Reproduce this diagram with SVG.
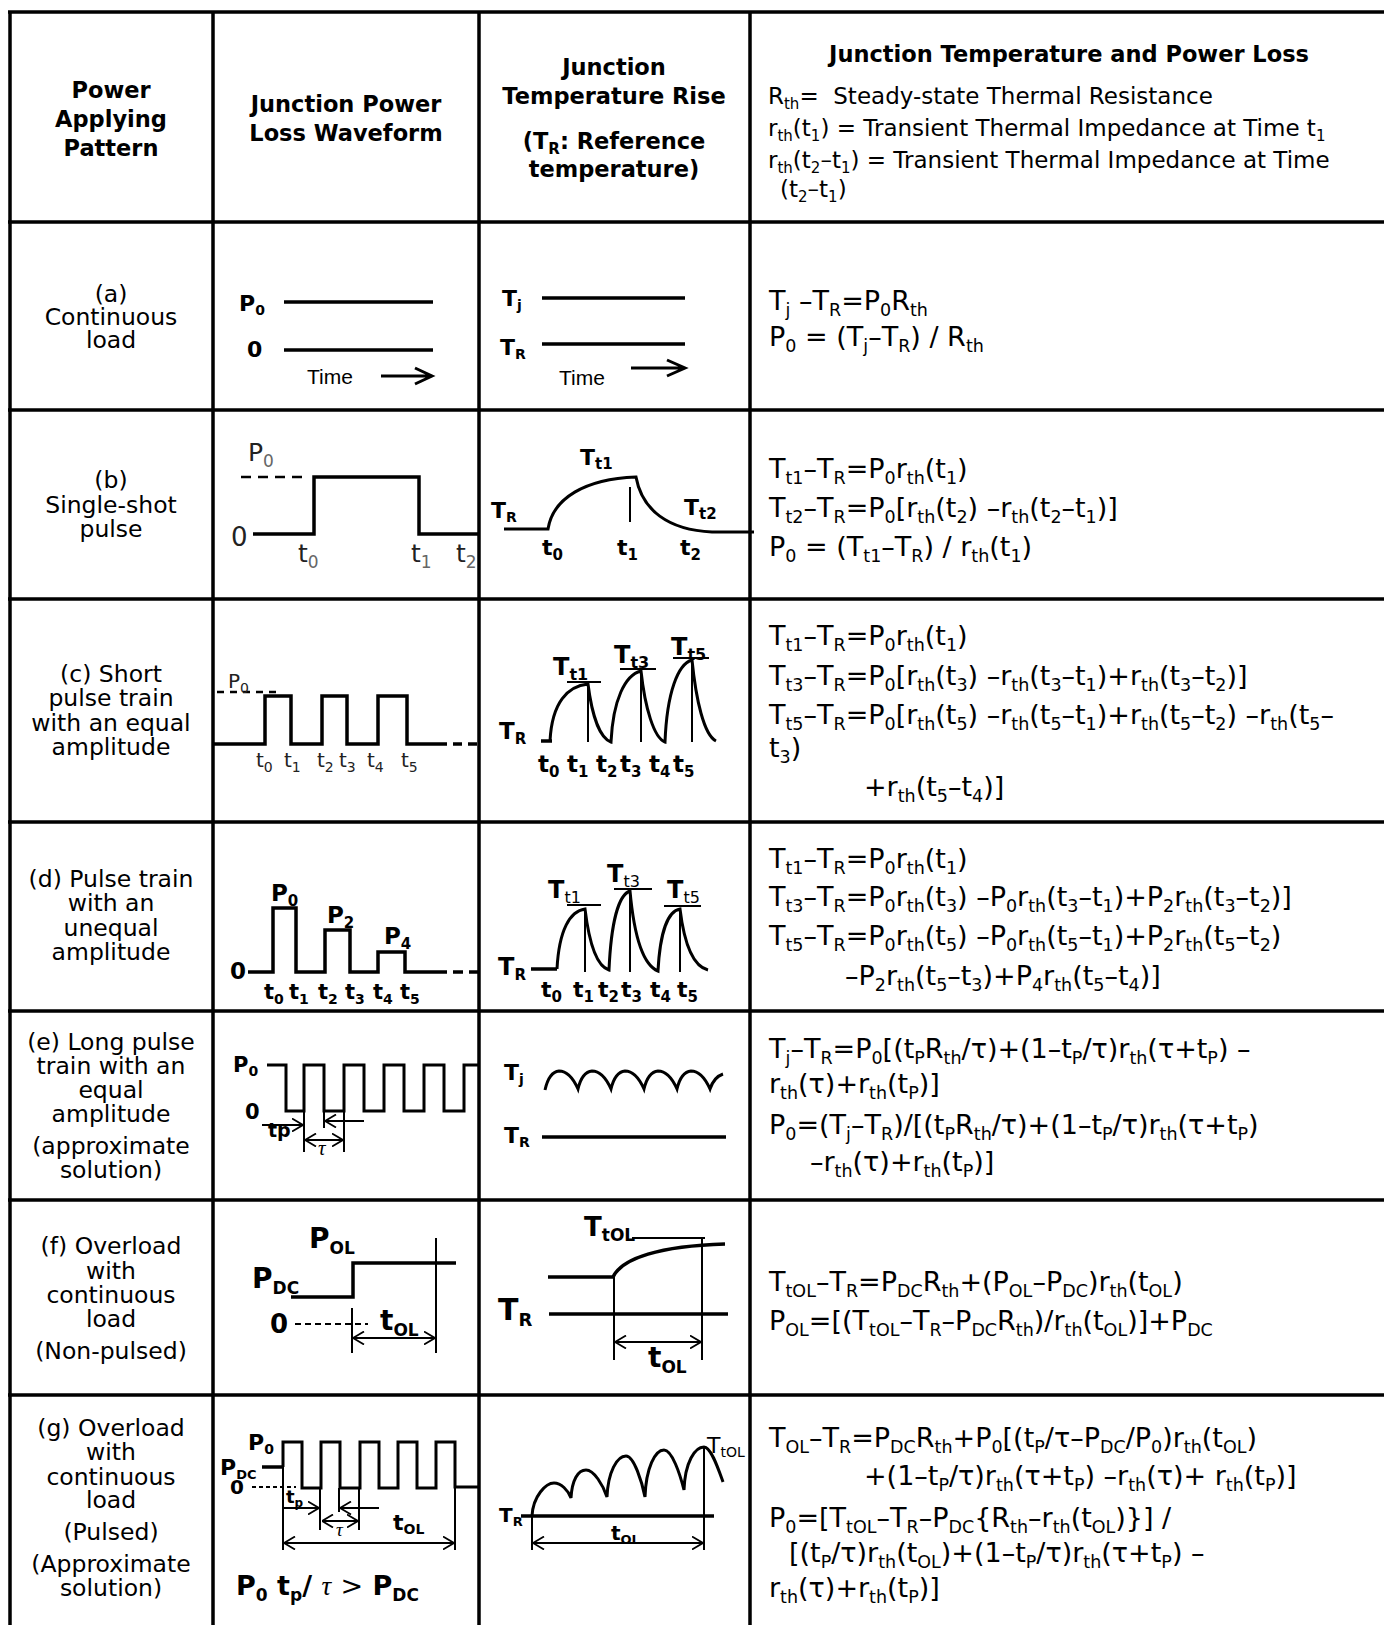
<svg xmlns="http://www.w3.org/2000/svg" width="1384" height="1625" viewBox="0 0 1384 1625">
<defs>
<style>
.grid{stroke:#000;stroke-width:3.5;fill:none}
.hd{font-family:"DejaVu Sans",sans-serif;font-weight:bold;font-size:22.5px;text-anchor:middle}
.lab{font-family:"DejaVu Sans",sans-serif;font-size:23.5px;text-anchor:middle}
.eq{font-family:"DejaVu Sans",sans-serif;font-size:27px}
.eq .s{font-size:17.5px;baseline-shift:-6px}
.h4{font-family:"DejaVu Sans",sans-serif;font-size:23px}
.h4 .s{font-size:15px;baseline-shift:-5px}
.w{stroke:#000;stroke-width:3.5;fill:none}
.w3{stroke:#000;stroke-width:3;fill:none}
.thin{stroke:#000;stroke-width:2;fill:none}
.dim{stroke:#000;stroke-width:1.8;fill:none;marker-start:url(#a);marker-end:url(#a)}
.one{stroke:#000;stroke-width:1.8;fill:none;marker-end:url(#a)}
.b{font-family:"DejaVu Sans",sans-serif;font-weight:bold}
.r{font-family:"DejaVu Sans",sans-serif}
.tm{font-family:"Liberation Sans",Arial,sans-serif;font-size:21px}
.tau{font-family:"Liberation Serif",serif;font-style:italic}
</style>
<marker id="a" viewBox="0 0 12 14" refX="11.5" refY="7" markerWidth="12" markerHeight="14" markerUnits="userSpaceOnUse" orient="auto-start-reverse"><path d="M0.5,0.5 L11.5,7 L0.5,13.5" fill="none" stroke="#000" stroke-width="1.8"/></marker>
</defs>
<rect width="1384" height="1625" fill="#fff"/>

<g id="grid" class="grid">
<path d="M10,12 V1625 M213,12 V1625 M479,12 V1625 M750,12 V1625"/>
<path d="M8,12 H1384 M8,222 H1384 M8,410 H1384 M8,599 H1384 M8,822 H1384 M8,1011 H1384 M8,1200 H1384 M8,1395 H1384"/>
</g>

<g id="header">
<g id="h-col1">
<text class="hd" x="111" y="98">Power</text>
<text class="hd" x="111" y="127">Applying</text>
<text class="hd" x="111" y="156">Pattern</text>
</g>
<g id="h-col2">
<text class="hd" x="346" y="112">Junction Power</text>
<text class="hd" x="346" y="141">Loss Waveform</text>
</g>
<g id="h-col3">
<text class="hd" x="614" y="75">Junction</text>
<text class="hd" x="614" y="104">Temperature Rise</text>
<text class="hd" x="614" y="149">(T<tspan font-size="15" baseline-shift="-5">R</tspan>: Reference</text>
<text class="hd" x="614" y="177">temperature)</text>
</g>
<g id="h-col4">
<text class="hd" x="1069" y="62">Junction Temperature and Power Loss</text>
<text class="h4" x="768" y="104">R<tspan class="s">th</tspan>=&#160; Steady-state Thermal Resistance</text>
<text class="h4" x="768" y="136">r<tspan class="s">th</tspan>(t<tspan class="s">1</tspan>) = Transient Thermal Impedance at Time t<tspan class="s">1</tspan></text>
<text class="h4" x="768" y="168">r<tspan class="s">th</tspan>(t<tspan class="s">2</tspan>–t<tspan class="s">1</tspan>) = Transient Thermal Impedance at Time</text>
<text class="h4" x="780" y="197">(t<tspan class="s">2</tspan>–t<tspan class="s">1</tspan>)</text>
</g>
</g>

<g id="row-a">
<g id="a-label">
<text class="lab" x="111" y="302">(a)</text>
<text class="lab" x="111" y="325">Continuous</text>
<text class="lab" x="111" y="348">load</text>
</g>
<g id="a-power">
<text class="b" x="239" y="311" font-size="22">P<tspan font-size="14" baseline-shift="-4">0</tspan></text>
<path class="w" d="M284,302 H433 M284,350 H433"/>
<text class="b" x="247" y="357" font-size="22">0</text>
<text class="tm" x="307" y="384">Time</text>
<path class="w3" d="M381,376 H431 M415,368 L432,376 L415,384"/>
</g>
<g id="a-temp">
<text class="b" x="502" y="306" font-size="22">T<tspan font-size="14" baseline-shift="-4">j</tspan></text>
<path class="w" d="M542,298 H685 M542,344 H685"/>
<text class="b" x="500" y="355" font-size="22">T<tspan font-size="14" baseline-shift="-4">R</tspan></text>
<text class="tm" x="559" y="385">Time</text>
<path class="w3" d="M631,368 H684 M667,360 L685,368 L667,376"/>
</g>
<g id="a-eq">
<text class="eq" x="769" y="310">T<tspan class="s">j</tspan> –T<tspan class="s">R</tspan>=P<tspan class="s">0</tspan>R<tspan class="s">th</tspan></text>
<text class="eq" x="769" y="346">P<tspan class="s">0</tspan> = (T<tspan class="s">j</tspan>–T<tspan class="s">R</tspan>) / R<tspan class="s">th</tspan></text>
</g>
</g>

<g id="row-b">
<g id="b-label">
<text class="lab" x="111" y="488">(b)</text>
<text class="lab" x="111" y="513">Single-shot</text>
<text class="lab" x="111" y="537">pulse</text>
</g>
<g id="b-power">
<text class="r" x="248" y="461" font-size="25" fill="#222">P<tspan font-size="17" baseline-shift="-6" fill="#666">0</tspan></text>
<path d="M241,477 H307" stroke="#000" stroke-width="2.5" stroke-dasharray="10,7"/>
<path class="w" d="M253,534 H314 V477 H419 V534 H479"/>
<text class="r" x="231" y="546" font-size="26" fill="#222">0</text>
<text class="r" x="298" y="562" font-size="25" fill="#222">t<tspan font-size="17" baseline-shift="-6" fill="#666">0</tspan></text>
<text class="r" x="411" y="562" font-size="25" fill="#222">t<tspan font-size="17" baseline-shift="-6" fill="#666">1</tspan></text>
<text class="r" x="456" y="562" font-size="25" fill="#222">t<tspan font-size="17" baseline-shift="-6" fill="#666">2</tspan></text>
</g>
<g id="b-temp">
<text class="b" x="491" y="518" font-size="22">T<tspan font-size="14" baseline-shift="-4">R</tspan></text>
<path class="w3" d="M504,529 H548 C553,498 585,479 636,477 C642,510 668,530 712,532 H754"/>
<path class="thin" d="M630,487 V522" stroke-width="2.5"/>
<text class="b" x="580" y="465" font-size="22">T<tspan font-size="15" baseline-shift="-4">t1</tspan></text>
<text class="b" x="684" y="515" font-size="22">T<tspan font-size="15" baseline-shift="-4">t2</tspan></text>
<text class="b" x="542" y="555" font-size="22">t<tspan font-size="15" baseline-shift="-5">0</tspan></text>
<text class="b" x="617" y="555" font-size="22">t<tspan font-size="15" baseline-shift="-5">1</tspan></text>
<text class="b" x="680" y="555" font-size="22">t<tspan font-size="15" baseline-shift="-5">2</tspan></text>
</g>
<g id="b-eq">
<text class="eq" x="769" y="478">T<tspan class="s">t1</tspan>–T<tspan class="s">R</tspan>=P<tspan class="s">0</tspan>r<tspan class="s">th</tspan>(t<tspan class="s">1</tspan>)</text>
<text class="eq" x="769" y="517">T<tspan class="s">t2</tspan>–T<tspan class="s">R</tspan>=P<tspan class="s">0</tspan>[r<tspan class="s">th</tspan>(t<tspan class="s">2</tspan>) –r<tspan class="s">th</tspan>(t<tspan class="s">2</tspan>–t<tspan class="s">1</tspan>)]</text>
<text class="eq" x="769" y="556">P<tspan class="s">0</tspan> = (T<tspan class="s">t1</tspan>–T<tspan class="s">R</tspan>) / r<tspan class="s">th</tspan>(t<tspan class="s">1</tspan>)</text>
</g>
</g>

<g id="row-c">
<g id="c-label">
<text class="lab" x="111" y="682">(c) Short</text>
<text class="lab" x="111" y="706">pulse train</text>
<text class="lab" x="111" y="731">with an equal</text>
<text class="lab" x="111" y="755">amplitude</text>
</g>
<g id="c-power">
<path d="M217,692 H280" stroke="#000" stroke-width="2.5" stroke-dasharray="7,6"/>
<text class="r" x="228" y="688" font-size="20" fill="#222">P<tspan font-size="14" baseline-shift="-5">0</tspan></text>
<path class="w" d="M213,744 H265 V696 H291 V744 H322 V696 H347 V744 H378 V696 H407 V744 H438"/>
<path d="M438,744 H479" stroke="#000" stroke-width="3.5" stroke-dasharray="9,6"/>
<g fill="#222" font-size="20">
<text class="r" x="256" y="767">t<tspan font-size="14" baseline-shift="-5">0</tspan></text>
<text class="r" x="284" y="767">t<tspan font-size="14" baseline-shift="-5">1</tspan></text>
<text class="r" x="317" y="767">t<tspan font-size="14" baseline-shift="-5">2</tspan></text>
<text class="r" x="339" y="767">t<tspan font-size="14" baseline-shift="-5">3</tspan></text>
<text class="r" x="367" y="767">t<tspan font-size="14" baseline-shift="-5">4</tspan></text>
<text class="r" x="401" y="767">t<tspan font-size="14" baseline-shift="-5">5</tspan></text>
</g>
</g>
<g id="c-temp">
<text class="b" x="499" y="739" font-size="23">T<tspan font-size="15" baseline-shift="-5">R</tspan></text>
<path class="w" d="M541,741 H552"/>
<path class="w3" d="M550,741 C552,702 568,686 588,684 C592,716 600,738 611,742 C613,700 625,675 641,671 C645,708 654,738 665,742 C667,692 678,664 692,660 C696,700 704,735 716,741"/>
<path class="thin" d="M588,684 V742 M641,671 V742 M692,660 V742"/>
<path class="thin" stroke-width="2.5" d="M567,682 H601 M620,669 H656 M673,658 H709"/>
<text class="b" x="553" y="675" font-size="24">T<tspan font-size="16" baseline-shift="-5">t1</tspan></text>
<text class="b" x="614" y="663" font-size="24">T<tspan font-size="16" baseline-shift="-5">t3</tspan></text>
<text class="b" x="671" y="655" font-size="24">T<tspan font-size="16" baseline-shift="-5">t5</tspan></text>
<g font-size="23">
<text class="b" x="538" y="772">t<tspan font-size="15" baseline-shift="-5">0</tspan></text>
<text class="b" x="567" y="772">t<tspan font-size="15" baseline-shift="-5">1</tspan></text>
<text class="b" x="596" y="772">t<tspan font-size="15" baseline-shift="-5">2</tspan></text>
<text class="b" x="620" y="772">t<tspan font-size="15" baseline-shift="-5">3</tspan></text>
<text class="b" x="649" y="772">t<tspan font-size="15" baseline-shift="-5">4</tspan></text>
<text class="b" x="673" y="772">t<tspan font-size="15" baseline-shift="-5">5</tspan></text>
</g>
</g>
<g id="c-eq">
<text class="eq" x="769" y="645">T<tspan class="s">t1</tspan>–T<tspan class="s">R</tspan>=P<tspan class="s">0</tspan>r<tspan class="s">th</tspan>(t<tspan class="s">1</tspan>)</text>
<text class="eq" x="769" y="685">T<tspan class="s">t3</tspan>–T<tspan class="s">R</tspan>=P<tspan class="s">0</tspan>[r<tspan class="s">th</tspan>(t<tspan class="s">3</tspan>) –r<tspan class="s">th</tspan>(t<tspan class="s">3</tspan>–t<tspan class="s">1</tspan>)+r<tspan class="s">th</tspan>(t<tspan class="s">3</tspan>–t<tspan class="s">2</tspan>)]</text>
<text class="eq" x="769" y="724">T<tspan class="s">t5</tspan>–T<tspan class="s">R</tspan>=P<tspan class="s">0</tspan>[r<tspan class="s">th</tspan>(t<tspan class="s">5</tspan>) –r<tspan class="s">th</tspan>(t<tspan class="s">5</tspan>–t<tspan class="s">1</tspan>)+r<tspan class="s">th</tspan>(t<tspan class="s">5</tspan>–t<tspan class="s">2</tspan>) –r<tspan class="s">th</tspan>(t<tspan class="s">5</tspan>–</text>
<text class="eq" x="769" y="757">t<tspan class="s">3</tspan>)</text>
<text class="eq" x="864" y="796">+r<tspan class="s">th</tspan>(t<tspan class="s">5</tspan>–t<tspan class="s">4</tspan>)]</text>
</g>
</g>

<g id="row-d">
<g id="d-label">
<text class="lab" x="111" y="887">(d) Pulse train</text>
<text class="lab" x="111" y="911">with an</text>
<text class="lab" x="111" y="936">unequal</text>
<text class="lab" x="111" y="960">amplitude</text>
</g>
<g id="d-power">
<text class="b" x="230" y="979" font-size="23">0</text>
<path class="w" d="M248,972 H273 V908 H296 V972 H325 V930 H350 V972 H378 V952 H405 V972 H437"/>
<path d="M437,972 H479" stroke="#000" stroke-width="3.5" stroke-dasharray="10,6"/>
<text class="b" x="271" y="901" font-size="23">P<tspan font-size="15" baseline-shift="-5">0</tspan></text>
<text class="b" x="327" y="923" font-size="23">P<tspan font-size="15" baseline-shift="-5">2</tspan></text>
<text class="b" x="384" y="944" font-size="23">P<tspan font-size="15" baseline-shift="-5">4</tspan></text>
<g font-size="21">
<text class="b" x="264" y="999">t<tspan font-size="14" baseline-shift="-5">0</tspan></text>
<text class="b" x="289" y="999">t<tspan font-size="14" baseline-shift="-5">1</tspan></text>
<text class="b" x="318" y="999">t<tspan font-size="14" baseline-shift="-5">2</tspan></text>
<text class="b" x="345" y="999">t<tspan font-size="14" baseline-shift="-5">3</tspan></text>
<text class="b" x="373" y="999">t<tspan font-size="14" baseline-shift="-5">4</tspan></text>
<text class="b" x="400" y="999">t<tspan font-size="14" baseline-shift="-5">5</tspan></text>
</g>
</g>
<g id="d-temp">
<text class="b" x="498" y="975" font-size="24">T<tspan font-size="15" baseline-shift="-5">R</tspan></text>
<path class="w" d="M531,969 H557"/>
<path class="w3" d="M557,969 C559,930 570,911 585,909 C589,942 596,966 609,970 C611,925 618,895 630,891 C634,935 643,965 658,971 C660,932 668,911 680,909 C684,942 692,966 708,970"/>
<path class="thin" d="M585,909 V972 M630,891 V972 M680,909 V972"/>
<path class="thin" stroke-width="2.5" d="M567,905 H601 M614,889 H652 M664,906 H701"/>
<text class="b" x="548" y="898" font-size="24">T<tspan font-size="16" baseline-shift="-5" font-weight="normal">t1</tspan></text>
<text class="b" x="607" y="882" font-size="24">T<tspan font-size="16" baseline-shift="-5" font-weight="normal">t3</tspan></text>
<text class="b" x="667" y="898" font-size="24">T<tspan font-size="16" baseline-shift="-5" font-weight="normal">t5</tspan></text>
<g font-size="22">
<text class="b" x="541" y="997">t<tspan font-size="15" baseline-shift="-5">0</tspan></text>
<text class="b" x="573" y="997">t<tspan font-size="15" baseline-shift="-5">1</tspan></text>
<text class="b" x="598" y="997">t<tspan font-size="15" baseline-shift="-5">2</tspan></text>
<text class="b" x="621" y="997">t<tspan font-size="15" baseline-shift="-5">3</tspan></text>
<text class="b" x="650" y="997">t<tspan font-size="15" baseline-shift="-5">4</tspan></text>
<text class="b" x="677" y="997">t<tspan font-size="15" baseline-shift="-5">5</tspan></text>
</g>
</g>
<g id="d-eq">
<text class="eq" x="769" y="868">T<tspan class="s">t1</tspan>–T<tspan class="s">R</tspan>=P<tspan class="s">0</tspan>r<tspan class="s">th</tspan>(t<tspan class="s">1</tspan>)</text>
<text class="eq" x="769" y="906">T<tspan class="s">t3</tspan>–T<tspan class="s">R</tspan>=P<tspan class="s">0</tspan>r<tspan class="s">th</tspan>(t<tspan class="s">3</tspan>) –P<tspan class="s">0</tspan>r<tspan class="s">th</tspan>(t<tspan class="s">3</tspan>–t<tspan class="s">1</tspan>)+P<tspan class="s">2</tspan>r<tspan class="s">th</tspan>(t<tspan class="s">3</tspan>–t<tspan class="s">2</tspan>)]</text>
<text class="eq" x="769" y="945">T<tspan class="s">t5</tspan>–T<tspan class="s">R</tspan>=P<tspan class="s">0</tspan>r<tspan class="s">th</tspan>(t<tspan class="s">5</tspan>) –P<tspan class="s">0</tspan>r<tspan class="s">th</tspan>(t<tspan class="s">5</tspan>–t<tspan class="s">1</tspan>)+P<tspan class="s">2</tspan>r<tspan class="s">th</tspan>(t<tspan class="s">5</tspan>–t<tspan class="s">2</tspan>)</text>
<text class="eq" x="845" y="985">–P<tspan class="s">2</tspan>r<tspan class="s">th</tspan>(t<tspan class="s">5</tspan>–t<tspan class="s">3</tspan>)+P<tspan class="s">4</tspan>r<tspan class="s">th</tspan>(t<tspan class="s">5</tspan>–t<tspan class="s">4</tspan>)]</text>
</g>
</g>

<g id="row-e">
<g id="e-label">
<text class="lab" x="111" y="1050">(e) Long pulse</text>
<text class="lab" x="111" y="1074">train with an</text>
<text class="lab" x="111" y="1098">equal</text>
<text class="lab" x="111" y="1122">amplitude</text>
<text class="lab" x="111" y="1154">(approximate</text>
<text class="lab" x="111" y="1178">solution)</text>
</g>
<g id="e-power">
<text class="b" x="233" y="1072" font-size="21">P<tspan font-size="14" baseline-shift="-4">0</tspan></text>
<text class="b" x="245" y="1119" font-size="21">0</text>
<path class="w3" d="M267,1065 H286 V1111 H304 V1065 H324 V1111 H344 V1065 H364 V1111 H384 V1065 H404 V1111 H424 V1065 H444 V1111 H464 V1065 H479"/>
<path class="thin" stroke-width="1.8" d="M304,1111 V1152 M344,1111 V1152 M324,1111 V1128"/>
<path class="one" d="M262,1125 H303"/>
<path class="one" d="M364,1121 H325"/>
<path class="dim" d="M305,1140 H343"/>
<text class="b" x="268" y="1137" font-size="19">tp</text>
<text class="tau" x="318" y="1155" font-size="21">τ</text>
</g>
<g id="e-temp">
<text class="b" x="504" y="1080" font-size="22">T<tspan font-size="14" baseline-shift="-4">j</tspan></text>
<path class="w3" d="M545,1090 Q549,1072 559,1071 Q570,1071 578,1089 Q582,1072 592,1071 Q603,1071 611,1089 Q615,1072 625,1071 Q636,1071 644,1089 Q648,1072 658,1071 Q669,1071 677,1089 Q681,1072 691,1071 Q702,1071 710,1089 Q714,1077 723,1074"/>
<text class="b" x="504" y="1143" font-size="22">T<tspan font-size="14" baseline-shift="-4">R</tspan></text>
<path class="w" d="M542,1137 H726"/>
</g>
<g id="e-eq">
<text class="eq" x="769" y="1058">T<tspan class="s">j</tspan>–T<tspan class="s">R</tspan>=P<tspan class="s">0</tspan>[(t<tspan class="s">P</tspan>R<tspan class="s">th</tspan>/τ)+(1–t<tspan class="s">P</tspan>/τ)r<tspan class="s">th</tspan>(τ+t<tspan class="s">P</tspan>) –</text>
<text class="eq" x="769" y="1093">r<tspan class="s">th</tspan>(τ)+r<tspan class="s">th</tspan>(t<tspan class="s">P</tspan>)]</text>
<text class="eq" x="769" y="1134">P<tspan class="s">0</tspan>=(T<tspan class="s">j</tspan>–T<tspan class="s">R</tspan>)/[(t<tspan class="s">P</tspan>R<tspan class="s">th</tspan>/τ)+(1–t<tspan class="s">P</tspan>/τ)r<tspan class="s">th</tspan>(τ+t<tspan class="s">P</tspan>)</text>
<text class="eq" x="810" y="1171">–r<tspan class="s">th</tspan>(τ)+r<tspan class="s">th</tspan>(t<tspan class="s">P</tspan>)]</text>
</g>
</g>

<g id="row-f">
<g id="f-label">
<text class="lab" x="111" y="1254">(f) Overload</text>
<text class="lab" x="111" y="1279">with</text>
<text class="lab" x="111" y="1303">continuous</text>
<text class="lab" x="111" y="1327">load</text>
<text class="lab" x="111" y="1359">(Non-pulsed)</text>
</g>
<g id="f-power">
<text class="b" x="309" y="1248" font-size="28">P<tspan font-size="17" baseline-shift="-6">OL</tspan></text>
<text class="b" x="252" y="1288" font-size="28">P<tspan font-size="17" baseline-shift="-6">DC</tspan></text>
<path class="w" d="M291,1297 H353 V1263 H456"/>
<text class="b" x="270" y="1333" font-size="26">0</text>
<path d="M295,1324 H368" stroke="#000" stroke-width="2" stroke-dasharray="6,4"/>
<path class="thin" d="M352,1308 V1353 M436,1238 V1353"/>
<path class="dim" d="M353,1338 H435"/>
<text class="b" x="380" y="1330" font-size="28">t<tspan font-size="17" baseline-shift="-6">OL</tspan></text>
</g>
<g id="f-temp">
<text class="b" x="584" y="1236" font-size="26">T<tspan font-size="17" baseline-shift="-5">tOL</tspan></text>
<path class="thin" d="M632,1238 H705"/>
<path class="w" d="M548,1277 H613 C622,1258 660,1246 725,1244"/>
<path class="w" d="M549,1314 H728"/>
<text class="b" x="498" y="1320" font-size="30">T<tspan font-size="18" baseline-shift="-6">R</tspan></text>
<path class="thin" d="M614,1277 V1360 M702,1238 V1360"/>
<path class="dim" d="M615,1342 H701"/>
<text class="b" x="648" y="1367" font-size="28">t<tspan font-size="17" baseline-shift="-6">OL</tspan></text>
</g>
<g id="f-eq">
<text class="eq" x="769" y="1291">T<tspan class="s">tOL</tspan>–T<tspan class="s">R</tspan>=P<tspan class="s">DC</tspan>R<tspan class="s">th</tspan>+(P<tspan class="s">OL</tspan>–P<tspan class="s">DC</tspan>)r<tspan class="s">th</tspan>(t<tspan class="s">OL</tspan>)</text>
<text class="eq" x="769" y="1330">P<tspan class="s">OL</tspan>=[(T<tspan class="s">tOL</tspan>–T<tspan class="s">R</tspan>–P<tspan class="s">DC</tspan>R<tspan class="s">th</tspan>)/r<tspan class="s">th</tspan>(t<tspan class="s">OL</tspan>)]+P<tspan class="s">DC</tspan></text>
</g>
</g>

<g id="row-g">
<g id="g-label">
<text class="lab" x="111" y="1436">(g) Overload</text>
<text class="lab" x="111" y="1460">with</text>
<text class="lab" x="111" y="1485">continuous</text>
<text class="lab" x="111" y="1508">load</text>
<text class="lab" x="111" y="1540">(Pulsed)</text>
<text class="lab" x="111" y="1572">(Approximate</text>
<text class="lab" x="111" y="1596">solution)</text>
</g>
<g id="g-power">
<text class="b" x="248" y="1450" font-size="22">P<tspan font-size="14" baseline-shift="-4">0</tspan></text>
<text class="b" x="220" y="1475" font-size="22">P<tspan font-size="13" baseline-shift="-4">DC</tspan></text>
<path class="w" d="M262,1467 H283"/>
<text class="b" x="230" y="1494" font-size="20">0</text>
<path d="M252,1487 H296" stroke="#000" stroke-width="1.8" stroke-dasharray="4,3"/>
<path class="w3" d="M283,1467 V1442 H302 V1488 H321 V1442 H340 V1488 H360 V1442 H379 V1488 H398 V1442 H417 V1488 H436 V1442 H455 V1487 H479"/>
<path class="thin" stroke-width="1.8" d="M283,1467 V1550 M320,1488 V1530 M339,1488 V1512 M359,1488 V1530 M455,1487 V1550"/>
<path class="one" d="M284,1508 H319"/>
<path class="one" d="M379,1508 H340"/>
<path class="dim" d="M322,1521 H358"/>
<path class="dim" d="M284,1543 H454"/>
<text class="b" x="286" y="1503" font-size="18">t<tspan font-size="12" baseline-shift="-4">p</tspan></text>
<text class="tau" x="336" y="1536" font-size="19">τ</text>
<text class="b" x="393" y="1530" font-size="22">t<tspan font-size="14" baseline-shift="-4">OL</tspan></text>
<text class="b" x="236" y="1595" font-size="27">P<tspan font-size="17" baseline-shift="-6">0</tspan> t<tspan font-size="17" baseline-shift="-6">p</tspan>/ <tspan class="tau" font-weight="normal">τ</tspan> <tspan font-weight="normal">&gt;</tspan> P<tspan font-size="17" baseline-shift="-6">DC</tspan></text>
</g>
<g id="g-temp">
<text class="b" x="499" y="1522" font-size="20">T<tspan font-size="13" baseline-shift="-4">R</tspan></text>
<path class="w" d="M521,1516 H714"/>
<path class="w3" d="M532,1516 C533,1496 546,1483 554,1483 C561,1483 568,1490 571,1498 C572,1480 578,1470 586,1470 C594,1470 603,1485 607,1497 C608,1472 617,1456 626,1456 C634,1456 642,1482 645,1497 C646,1468 655,1450 664,1450 C672,1450 680,1474 684,1490 C685,1462 695,1447 704,1447 C711,1447 718,1468 723,1482"/>
<path class="thin" stroke-width="1.8" d="M704,1448 V1550 M532,1516 V1550"/>
<path class="dim" d="M533,1543 H703"/>
<text class="b" x="611" y="1540" font-size="20">t<tspan font-size="13" baseline-shift="-4">OL</tspan></text>
<text class="r" x="707" y="1453" font-size="22">T<tspan font-size="14" baseline-shift="-4">tOL</tspan></text>
</g>
<g id="g-eq">
<text class="eq" x="769" y="1447">T<tspan class="s">OL</tspan>–T<tspan class="s">R</tspan>=P<tspan class="s">DC</tspan>R<tspan class="s">th</tspan>+P<tspan class="s">0</tspan>[(t<tspan class="s">P</tspan>/τ–P<tspan class="s">DC</tspan>/P<tspan class="s">0</tspan>)r<tspan class="s">th</tspan>(t<tspan class="s">OL</tspan>)</text>
<text class="eq" x="864" y="1485">+(1–t<tspan class="s">P</tspan>/τ)r<tspan class="s">th</tspan>(τ+t<tspan class="s">P</tspan>) –r<tspan class="s">th</tspan>(τ)+ r<tspan class="s">th</tspan>(t<tspan class="s">P</tspan>)]</text>
<text class="eq" x="769" y="1527">P<tspan class="s">0</tspan>=[T<tspan class="s">tOL</tspan>–T<tspan class="s">R</tspan>–P<tspan class="s">DC</tspan>{R<tspan class="s">th</tspan>–r<tspan class="s">th</tspan>(t<tspan class="s">OL</tspan>)}] /</text>
<text class="eq" x="789" y="1562">[(t<tspan class="s">P</tspan>/τ)r<tspan class="s">th</tspan>(t<tspan class="s">OL</tspan>)+(1–t<tspan class="s">P</tspan>/τ)r<tspan class="s">th</tspan>(τ+t<tspan class="s">P</tspan>) –</text>
<text class="eq" x="769" y="1597">r<tspan class="s">th</tspan>(τ)+r<tspan class="s">th</tspan>(t<tspan class="s">P</tspan>)]</text>
</g>
</g>
</svg>
